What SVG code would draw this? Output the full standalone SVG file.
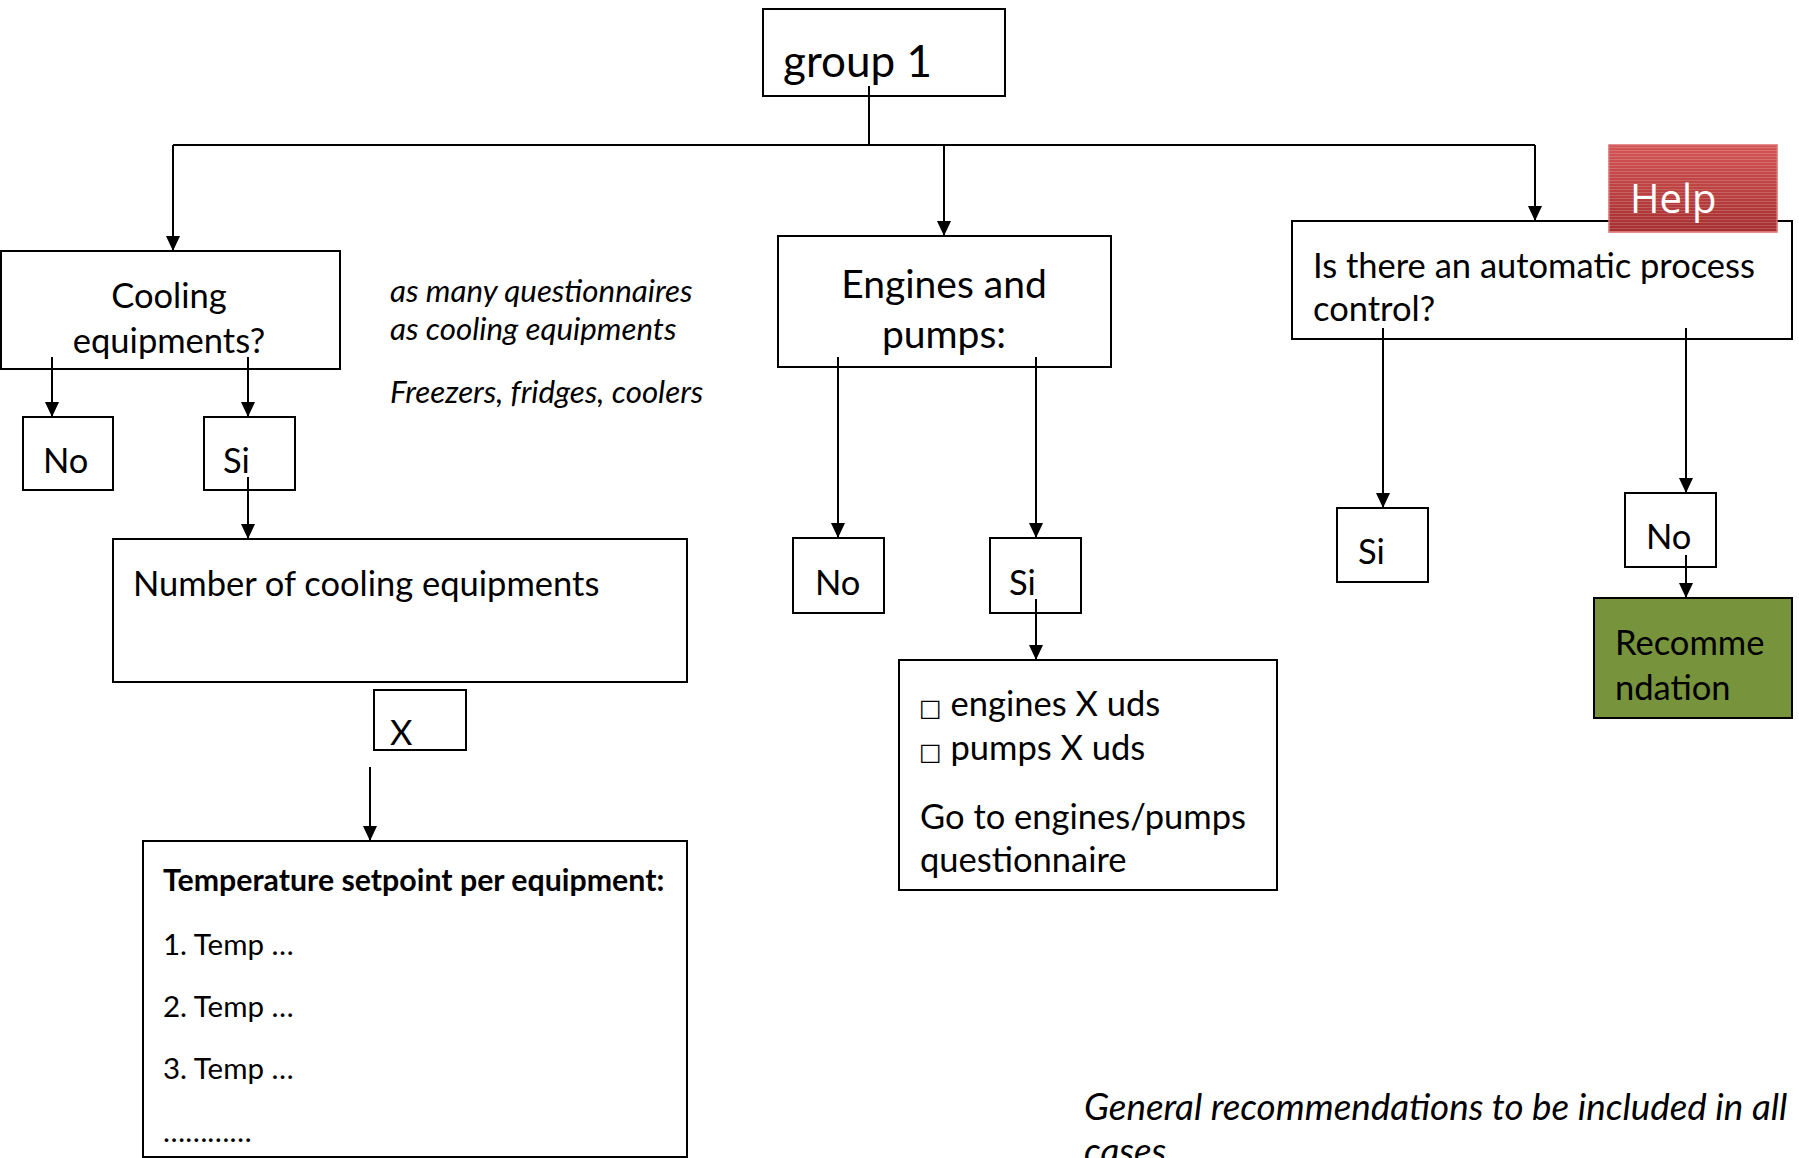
<svg xmlns="http://www.w3.org/2000/svg" width="1799" height="1158" viewBox="0 0 1799 1158">
<style>
.box{fill:#fff;stroke:#000;stroke-width:2}
.t{font-family:Lato,"Liberation Sans",sans-serif;font-size:34.5px;fill:#000}
.c{text-anchor:middle}
.it{font-style:italic;font-size:31.3px}
.sm{font-size:29.5px}
.b{font-weight:bold;font-size:30.3px}
.con{fill:none;stroke:#000;stroke-width:2}
.sq{font-family:"DejaVu Sans",sans-serif;font-size:24px}
</style>
<defs>
<marker id="ah" markerUnits="userSpaceOnUse" markerWidth="16" markerHeight="16" refX="15" refY="8" orient="auto">
<path d="M0,1 L15,8 L0,15 z" fill="#000"/>
</marker>
<linearGradient id="red" x1="0" y1="0" x2="0" y2="1">
<stop offset="0" stop-color="#D45454"/>
<stop offset="1" stop-color="#A52F2F"/>
</linearGradient>
<pattern id="stripes" patternUnits="userSpaceOnUse" width="10" height="3">
<rect x="0" y="0" width="10" height="1" fill="#ffffff" fill-opacity="0.18"/>
</pattern>
</defs>
<rect x="0" y="0" width="1799" height="1158" fill="#fff"/>

<g id="group1">
<rect class="box" x="763" y="9" width="242" height="87"/>
<text class="t" x="783" y="77" style="font-size:44px">group 1</text>
</g>

<g id="cooling">
<rect class="box" x="1" y="251" width="339" height="118"/>
<text class="t c" x="169" y="308">Cooling</text>
<text class="t c" x="169" y="353">equipments?</text>
</g>

<g id="notes">
<text class="t it" x="390" y="302">as many questionnaires</text>
<text class="t it" x="390" y="340">as cooling equipments</text>
<text class="t it" x="390" y="403">Freezers, fridges, coolers</text>
</g>

<g id="no1">
<rect class="box" x="23" y="417" width="90" height="73"/>
<text class="t" x="43" y="473">No</text>
</g>
<g id="si1">
<rect class="box" x="204" y="417" width="91" height="73"/>
<text class="t" x="223" y="473">Si</text>
</g>

<g id="number">
<rect class="box" x="113" y="539" width="574" height="143"/>
<text class="t" x="133" y="596">Number of cooling equipments</text>
</g>

<g id="xbox">
<rect class="box" x="374" y="690" width="92" height="60"/>
<text class="t" x="390" y="745">X</text>
</g>

<g id="temp">
<rect class="box" x="143" y="841" width="544" height="316"/>
<text class="t b" x="163" y="891">Temperature setpoint per equipment:</text>
<text class="t sm" x="163" y="955">1. Temp …</text>
<text class="t sm" x="163" y="1017">2. Temp …</text>
<text class="t sm" x="163" y="1079">3. Temp …</text>
<text class="t sm" x="163" y="1142">…………</text>
</g>

<g id="engines">
<rect class="box" x="778" y="236" width="333" height="131"/>
<text class="t c" x="944" y="298" style="font-size:39px">Engines and</text>
<text class="t c" x="944" y="348" style="font-size:39px">pumps:</text>
</g>

<g id="no2">
<rect class="box" x="793" y="538" width="91" height="75"/>
<text class="t" x="815" y="595">No</text>
</g>
<g id="si2">
<rect class="box" x="990" y="538" width="91" height="75"/>
<text class="t" x="1009" y="595">Si</text>
</g>

<g id="engbox">
<rect class="box" x="899" y="660" width="378" height="230"/>
<text class="t" x="919" y="716"><tspan class="sq">□</tspan> engines X uds</text>
<text class="t" x="919" y="760"><tspan class="sq">□</tspan> pumps X uds</text>
<text class="t" x="920" y="829">Go to engines/pumps</text>
<text class="t" x="920" y="872">questionnaire</text>
</g>

<g id="auto">
<rect class="box" x="1292" y="221" width="500" height="118"/>
<text class="t" x="1313" y="278">Is there an automatic process</text>
<text class="t" x="1313" y="321">control?</text>
</g>

<g id="help">
<rect x="1609" y="145" width="168" height="87" fill="url(#red)" stroke="#D86A6A" stroke-width="1.5"/>
<rect x="1609" y="145" width="168" height="87" fill="url(#stripes)"/>
<text x="1630" y="213" style="font-family:'Open Sans',sans-serif;font-size:40px;fill:#fff">Help</text>
</g>

<g id="si3">
<rect class="box" x="1337" y="508" width="91" height="74"/>
<text class="t" x="1358" y="564">Si</text>
</g>
<g id="no3">
<rect class="box" x="1625" y="493" width="91" height="74"/>
<text class="t" x="1646" y="549">No</text>
</g>

<g id="reco">
<rect x="1594" y="598" width="198" height="120" fill="#77933C" stroke="#000" stroke-width="2"/>
<text class="t" x="1615" y="655">Recomme</text>
<text class="t" x="1615" y="700">ndation</text>
</g>

<g id="general">
<text class="t it" x="1084" y="1120" style="font-size:36.8px">General recommendations to be included in all</text>
<text class="t it" x="1084" y="1164" style="font-size:36.8px">cases</text>
</g>

<g id="connectors">
<path class="con" d="M869,86 V145"/>
<path class="con" d="M173,145 H1535"/>
<path class="con" d="M173,145 V251" marker-end="url(#ah)"/>
<path class="con" d="M944,145 V236" marker-end="url(#ah)"/>
<path class="con" d="M1535,145 V221" marker-end="url(#ah)"/>
<path class="con" d="M52,357 V417" marker-end="url(#ah)"/>
<path class="con" d="M248,357 V417" marker-end="url(#ah)"/>
<path class="con" d="M248,477 V539" marker-end="url(#ah)"/>
<path class="con" d="M370,767 V841" marker-end="url(#ah)"/>
<path class="con" d="M838,357 V538" marker-end="url(#ah)"/>
<path class="con" d="M1036,357 V538" marker-end="url(#ah)"/>
<path class="con" d="M1036,599 V660" marker-end="url(#ah)"/>
<path class="con" d="M1383,328 V508" marker-end="url(#ah)"/>
<path class="con" d="M1686,328 V493" marker-end="url(#ah)"/>
<path class="con" d="M1686,555 V598" marker-end="url(#ah)"/>
</g>
</svg>
